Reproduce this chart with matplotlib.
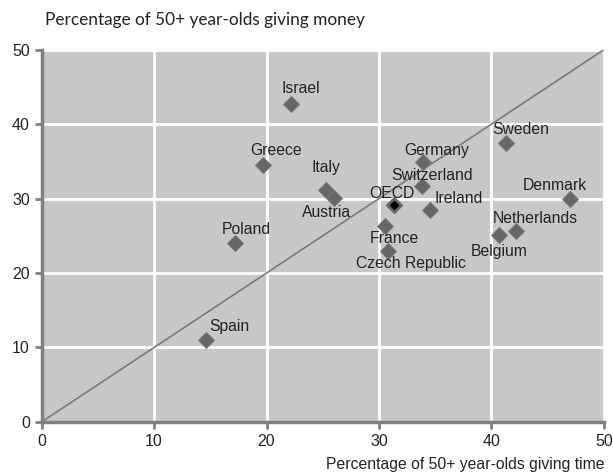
import matplotlib
matplotlib.use('Agg')
import matplotlib.pyplot as plt

# data
countries = ['Israel', 'Greece', 'Italy', 'Austria', 'Poland', 'Spain',
             'Germany', 'Switzerland', 'Ireland', 'France', 'Czech Republic',
             'Sweden', 'Denmark', 'Netherlands', 'Belgium']
giving_time = [22.2, 19.7, 25.3, 26.0, 17.2, 14.6,
               33.9, 33.8, 34.5, 30.5, 30.8,
               41.3, 47.0, 42.2, 40.7]
giving_money = [42.7, 34.5, 31.1, 30.1, 24.1, 11.0,
                34.9, 31.7, 28.5, 26.3, 23.0,
                37.5, 29.9, 25.6, 25.1]
oecd_time = 31.3
oecd_money = 29.1

# label offsets in pixels, per country
offsets = {'Israel': (10, 16), 'Greece': (13, 15), 'Italy': (0, 23),
           'Austria': (-7, -15), 'Poland': (11, 13), 'Spain': (24, 14),
           'Germany': (14, 12), 'Switzerland': (10, 10), 'Ireland': (29, 11),
           'France': (10, -12), 'Czech Republic': (23, -13), 'Sweden': (15, 13),
           'Denmark': (-15, 14), 'Netherlands': (19, 13), 'Belgium': (0, -16)}

fig = plt.figure(figsize=(6.13, 4.74), dpi=100)
ax = fig.add_axes([0.068, 0.110, 0.917, 0.785])
ax.set_facecolor('#c8c8c8')

ax.set_xlim(0, 50)
ax.set_ylim(0, 50)
ax.set_xticks(range(0, 51, 10))
ax.set_yticks(range(0, 51, 10))
ax.grid(color='white', linewidth=2)
ax.set_axisbelow(True)

for s in ['top', 'right']:
    ax.spines[s].set_visible(False)
for s in ['left', 'bottom']:
    ax.spines[s].set_color('#808080')
    ax.spines[s].set_linewidth(2.5)
ax.tick_params(colors='#808080', width=2, length=5, labelcolor='#222222',
               labelsize=11.5)
for lab in ax.get_xticklabels() + ax.get_yticklabels():
    lab.set_family('Liberation Sans')

# 45 degree reference line
ax.plot([0, 50], [0, 50], color='#7a7a7a', linewidth=1.2, zorder=2)

ax.scatter(giving_time, giving_money, marker='D', s=65, color='#666666',
           edgecolors='#777777', linewidths=0.8, zorder=3)
ax.scatter([oecd_time], [oecd_money], marker='D', s=65, color='#666666',
           zorder=3)
ax.scatter([oecd_time], [oecd_money], marker='D', s=16, color='black',
           zorder=4)

for name, x, y in zip(countries, giving_time, giving_money):
    ax.annotate(name, (x, y), xytext=offsets[name], textcoords='offset pixels',
                ha='center', va='center', fontsize=11.3, color='#222222',
                family='Liberation Sans', zorder=5)
ax.annotate('OECD', (oecd_time, oecd_money), xytext=(-2, 12),
            textcoords='offset pixels', ha='center', va='center',
            fontsize=11.3, color='#222222', family='Liberation Sans', zorder=5)

fig.text(45 / 613, 1 - 20 / 474, 'Percentage of 50+ year-olds giving money',
         ha='left', va='center', fontsize=12.4, family='Lato', color='#222222')
fig.text(604 / 613, 1 - 465 / 474, 'Percentage of 50+ year-olds giving time',
         ha='right', va='center', fontsize=11.3, family='Liberation Sans',
         color='#222222')

fig.savefig('out.png', dpi=100)
